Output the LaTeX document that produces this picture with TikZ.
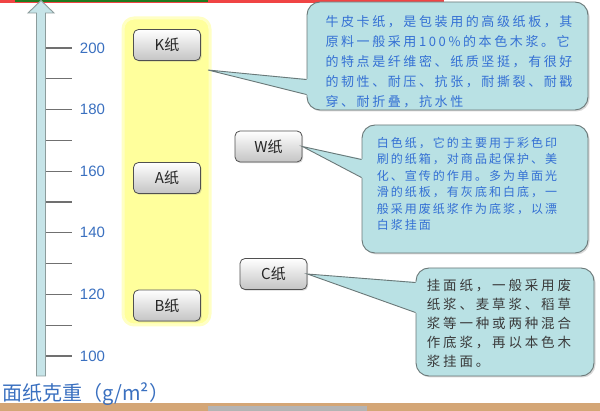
\documentclass[tikz,border=0pt]{standalone}
\usepackage{fontspec}
\setmainfont{Liberation Sans}
\newfontfamily\cjk{Noto Sans CJK SC}
\newfontfamily\cjkA[LetterSpace=20]{Noto Sans CJK SC}
\newfontfamily\cjkB[LetterSpace=17]{Noto Sans CJK SC}
\newfontfamily\cjkC[LetterSpace=21]{Noto Sans CJK SC}
\usetikzlibrary{shadows,calc}
\definecolor{axisfill}{HTML}{C6E4E8}
\definecolor{axisline}{HTML}{8C9C9C}
\definecolor{tickgray}{HTML}{707070}
\definecolor{axblue}{HTML}{3A70C0}
\definecolor{bandyellow}{HTML}{FFFF9C}
\definecolor{bandedge}{HTML}{FFFFC4}
\definecolor{btnline}{HTML}{505050}
\definecolor{btngray}{HTML}{C4C4C4}
\definecolor{callfill}{HTML}{B9E1E4}
\definecolor{callline}{HTML}{6A7878}
\definecolor{ctextcol}{HTML}{3470D4}
\definecolor{cdark}{HTML}{3A3A3A}
\definecolor{topred}{HTML}{F04444}
\definecolor{topgreen}{HTML}{1E7A1E}
\definecolor{bottan}{HTML}{D4A676}
\definecolor{botgray}{HTML}{B4B4B4}
\newcommand\fontOne{\cjkA\fontsize{13}{20}\selectfont}
\newcommand\fontTwo{\cjkB\fontsize{12}{16.4}\selectfont}
\newcommand\fontThree{\cjkC\fontsize{13.5}{19}\selectfont}
\tikzset{
  btn/.style={draw=btnline, line width=0.8pt, rounded corners=5pt,
    top color=white, bottom color=btngray, minimum width=67pt,
    minimum height=31pt, inner sep=0pt,
    font=\cjk\fontsize{15}{15}\selectfont, text=black!85,
    drop shadow={opacity=0.3, shadow xshift=1.2pt, shadow yshift=-1.2pt}},
  callout/.style={draw=callline, fill=callfill, rounded corners=13pt,
    line width=0.9pt, inner sep=0pt,
    drop shadow={opacity=0.3, shadow xshift=1.5pt, shadow yshift=-1.5pt}},
  wedge/.style={fill=callfill},
  wedgeline/.style={draw=callline, line width=0.9pt},
  ctext/.style={text=ctextcol, align=left, inner sep=0pt},
  tickline/.style={draw=tickgray, line width=1.1pt},
  axlab/.style={text=axblue, font=\fontsize{15}{15}\selectfont, inner sep=0pt},
}
\begin{document}
\begin{tikzpicture}[x=1pt,y=-1pt]
\useasboundingbox (0,0) rectangle (600,411);
\fill[white] (0,0) rectangle (600,411);
% top and bottom strips
\fill[topred] (0,0) rectangle (444,3);
\fill[topgreen] (15,0) rectangle (208,2.5);
\fill[bottan] (0,403) rectangle (600,411);
\fill[botgray] (208,406) rectangle (367,411);
% axis arrow
\draw[axisline, fill=axisfill, line width=0.9pt]
  (36.5,376) -- (36.5,13) -- (28,13) -- (41,0.5) -- (54,13) -- (45.5,13) -- (45.5,376) -- cycle;
% ticks and labels
\foreach \k in {0,...,10} {
  \draw[tickline] (46,{48+30.8*\k}) -- (72,{48+30.8*\k});
}
\foreach \k/\v in {0/200,2/180,4/160,6/140,8/120,10/100} {
  \node[axlab] (lab\v) at (92.5,{48+30.8*\k}) {\v};
}
\node[text=axblue, font=\cjk\fontsize{20}{20}\selectfont, anchor=west, inner sep=0pt] (axtitle) at (2,394) {面纸克重（g/m²）};
% yellow band
\draw[bandedge, line width=3pt, fill=bandyellow, rounded corners=11pt] (123,18) rectangle (210,325);
\node[inner sep=0pt, minimum width=87pt, minimum height=307pt] (band) at (166.5,171.5) {};
% buttons
\node[btn] (K) at (167,45) {K纸};
\node[btn] (A) at (167,178) {A纸};
\node[btn] (B) at (167,305.5) {B纸};
\node[btn] (W) at (268.5,146.5) {W纸};
\node[btn] (C) at (273.5,274) {C纸};
% callout 1
\node[callout, minimum width=281pt, minimum height=108pt] (c1) at (447.5,56) {};
\coordinate (tip1) at (208,70);
\fill[wedge] (tip1) -- ($(c1.north west)+(1.5,77.5)$) -- ($(c1.north west)+(1.5,93.5)$) -- cycle;
\draw[wedgeline] ($(c1.north west)+(0,78)$) -- (tip1) -- ($(c1.north west)+(0,93)$);
\node[ctext, font=\fontOne] (t1) at (449,62) {牛皮卡纸，是包装用的高级纸板，其\\原料一般采用100\%的本色木浆。它\\的特点是纤维密、纸质坚挺，有很好\\的韧性、耐压、抗张，耐撕裂、耐戳\\穿、耐折叠，抗水性};
% callout 2
\node[callout, minimum width=226pt, minimum height=128pt] (c2) at (475,189) {};
\fill[wedge] (W.east) -- ($(c2.north west)+(1.5,34.5)$) -- ($(c2.north west)+(1.5,53.5)$) -- cycle;
\draw[wedgeline] ($(c2.north west)+(0,35)$) -- (W.east) -- ($(c2.north west)+(0,53)$);
\node[ctext, font=\fontTwo] (t2) at (467,184) {白色纸，它的主要用于彩色印\\刷的纸箱，对商品起保护、美\\化、宣传的作用。多为单面光\\滑的纸板，有灰底和白底，一\\般采用废纸浆作为底浆，以漂\\白浆挂面};
% callout 3
\node[callout, minimum width=178pt, minimum height=108pt] (c3) at (505,322) {};
\fill[wedge] (C.east) -- ($(c3.north west)+(1.5,14.5)$) -- ($(c3.north west)+(1.5,45.5)$) -- cycle;
\draw[wedgeline] ($(c3.north west)+(0,15)$) -- (C.east) -- ($(c3.north west)+(0,45)$);
\node[ctext, text=cdark, font=\fontThree] (t3) at (499,323) {挂面纸，一般采用废\\纸浆、麦草浆、稻草\\浆等一种或两种混合\\作底浆，再以本色木\\浆挂面。};
\end{tikzpicture}
\end{document}
